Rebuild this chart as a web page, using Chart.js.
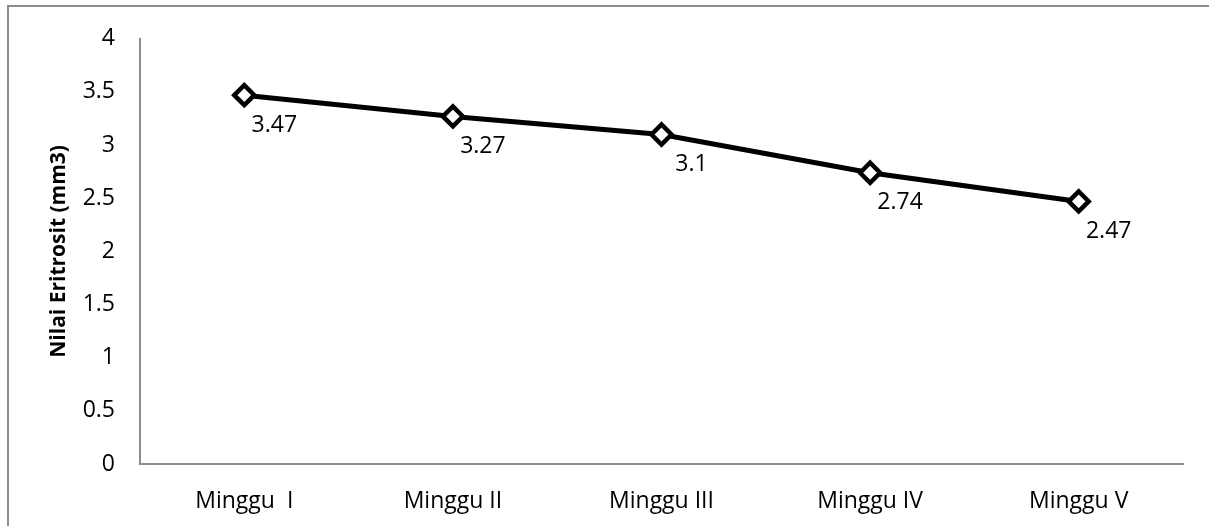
<!DOCTYPE html>
<html>
<head>
<meta charset="utf-8">
<script src="https://cdn.jsdelivr.net/npm/chart.js@4/dist/chart.umd.min.js"></script>
<style>
  html, body { margin: 0; padding: 0; background: #fff; overflow: hidden; }
  #wrap { position: relative; width: 1209px; height: 526px; }
  #frame {
    position: absolute; left: 7px; top: 5px; width: 1300px; height: 600px;
    border: 2px solid #8c8c8c; box-sizing: border-box; pointer-events: none;
  }
  canvas { position: absolute; left: 0; top: 0; }
</style>
</head>
<body>
<div id="wrap">
  <canvas id="chart" width="1209" height="526"></canvas>
  <div id="frame"></div>
</div>
<script>
// Weekly red blood cell values
const categories = ['Minggu  I', 'Minggu II', 'Minggu III', 'Minggu IV', 'Minggu V'];
const eritrosit = [3.47, 3.27, 3.1, 2.74, 2.47];
const yMin = 0;
const yMax = 4;
const yStep = 0.5;
const yTitle = 'Nilai Eritrosit (mm3)';

const FONT = "'Open Sans', 'DejaVu Sans', sans-serif";

// Writes each point's value below and to the right of its marker
const valueLabels = {
  id: 'valueLabels',
  afterDatasetsDraw(chart) {
    const ctx = chart.ctx;
    const meta = chart.getDatasetMeta(0);
    const values = chart.data.datasets[0].data;
    ctx.save();
    ctx.font = '23px ' + FONT;
    ctx.fillStyle = '#000';
    ctx.textAlign = 'center';
    ctx.textBaseline = 'middle';
    meta.data.forEach((pt, i) => {
      ctx.fillText(String(values[i]), pt.x + 30, pt.y + 30);
    });
    ctx.restore();
  }
};

new Chart(document.getElementById('chart'), {
  type: 'line',
  data: {
    labels: categories,
    datasets: [{
      data: eritrosit,
      borderColor: '#000',
      borderWidth: 5,
      pointStyle: 'rectRot',
      pointRadius: 10,
      pointBorderWidth: 4.5,
      pointBackgroundColor: '#fff',
      pointBorderColor: '#000',
      tension: 0,
      fill: false
    }]
  },
  options: {
    responsive: false,
    animation: false,
    events: [],
    layout: { padding: { left: 10, right: 26, top: 36, bottom: 0 } },
    plugins: {
      legend: { display: false },
      tooltip: { enabled: false }
    },
    scales: {
      x: {
        type: 'category',
        offset: true,
        grid: { display: false, drawTicks: false },
        border: { display: true, color: '#8c8c8c', width: 2 },
        ticks: {
          color: '#000',
          font: { family: FONT, size: 23 },
          padding: 24,
          maxRotation: 0,
          autoSkip: false
        },
        afterFit(scale) { scale.height = 526 - 464; }
      },
      y: {
        min: yMin,
        max: yMax,
        grid: { display: false, drawTicks: false },
        border: { display: true, color: '#8c8c8c', width: 2 },
        ticks: {
          stepSize: yStep,
          color: '#000',
          font: { family: FONT, size: 23 },
          padding: 25,
          callback: (v) => String(v)
        },
        title: {
          display: true,
          text: yTitle,
          color: '#000',
          font: { family: FONT, size: 21, weight: 'bold' },
          padding: { top: 36, bottom: 0 }
        },
        afterFit(scale) { scale.width = 140 - 10; }
      }
    }
  },
  plugins: [valueLabels]
});
</script>
</body>
</html>
